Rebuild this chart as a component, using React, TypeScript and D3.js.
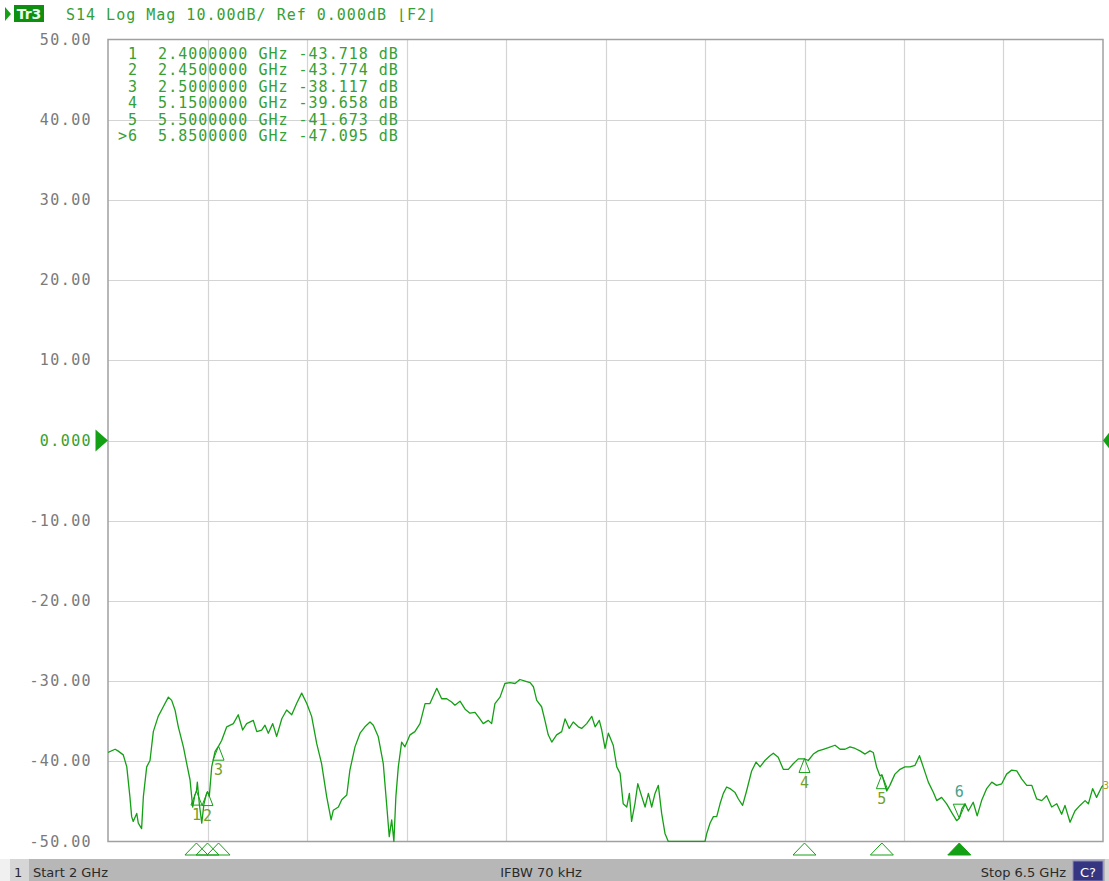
import React, { useRef, useEffect } from 'react';
import * as d3 from 'd3';

// S14 trace (GHz / dB)
const freqGHz = [
  2.000, 2.032, 2.045, 2.069, 2.085, 2.099, 2.107, 2.114, 2.130, 2.137, 2.152, 2.160, 2.175, 2.190,
  2.205, 2.227, 2.250, 2.273, 2.288, 2.303, 2.318, 2.341, 2.359, 2.371, 2.383, 2.393, 2.400, 2.404,
  2.413, 2.424, 2.434, 2.446, 2.450, 2.458, 2.469, 2.484, 2.500, 2.514, 2.537, 2.567, 2.589, 2.609,
  2.627, 2.657, 2.673, 2.695, 2.710, 2.725, 2.745, 2.763, 2.786, 2.808, 2.831, 2.853, 2.876, 2.899,
  2.921, 2.944, 2.966, 2.989, 3.009, 3.019, 3.042, 3.057, 3.080, 3.094, 3.117, 3.140, 3.162, 3.185,
  3.200, 3.222, 3.245, 3.260, 3.272, 3.283, 3.293, 3.302, 3.313, 3.328, 3.343, 3.366, 3.388, 3.411,
  3.434, 3.456, 3.487, 3.509, 3.532, 3.554, 3.569, 3.592, 3.615, 3.637, 3.660, 3.682, 3.697, 3.720,
  3.735, 3.750, 3.773, 3.795, 3.818, 3.841, 3.863, 3.886, 3.909, 3.924, 3.939, 3.961, 3.976, 3.991,
  4.007, 4.029, 4.052, 4.067, 4.086, 4.104, 4.127, 4.142, 4.165, 4.188, 4.203, 4.222, 4.233, 4.248,
  4.263, 4.285, 4.301, 4.316, 4.330, 4.346, 4.358, 4.368, 4.383, 4.396, 4.414, 4.429, 4.444, 4.459,
  4.474, 4.489, 4.504, 4.519, 4.534, 4.700, 4.708, 4.723, 4.738, 4.753, 4.768, 4.783, 4.798, 4.813,
  4.836, 4.851, 4.870, 4.888, 4.911, 4.931, 4.949, 4.971, 4.994, 5.009, 5.031, 5.054, 5.077, 5.099,
  5.122, 5.150, 5.167, 5.190, 5.212, 5.235, 5.258, 5.288, 5.311, 5.333, 5.356, 5.379, 5.401, 5.424,
  5.446, 5.461, 5.476, 5.491, 5.500, 5.522, 5.536, 5.559, 5.582, 5.604, 5.627, 5.650, 5.670, 5.687,
  5.710, 5.733, 5.748, 5.770, 5.793, 5.816, 5.838, 5.850, 5.862, 5.876, 5.891, 5.913, 5.931, 5.951,
  5.974, 5.997, 6.019, 6.042, 6.064, 6.087, 6.110, 6.132, 6.155, 6.178, 6.200, 6.223, 6.245, 6.268,
  6.291, 6.313, 6.328, 6.351, 6.373, 6.396, 6.419, 6.434, 6.453, 6.471, 6.494, 6.500,
];

const s14dB = [
  -38.9, -38.5, -38.7, -39.2, -40.7, -44.4, -46.9, -47.5, -46.5, -47.7, -48.4, -44.4, -40.7, -39.9,
  -36.3, -34.4, -33.2, -32.0, -32.4, -33.6, -35.7, -38.2, -40.7, -42.3, -45.7, -44.2, -43.7, -42.6,
  -45.3, -47.7, -45.3, -44.0, -43.8, -44.4, -40.7, -38.8, -38.1, -37.4, -35.7, -35.3, -34.2, -36.1,
  -35.3, -34.9, -36.3, -36.1, -35.5, -36.5, -35.3, -36.9, -34.7, -33.6, -34.2, -32.8, -31.5, -32.8,
  -34.4, -37.8, -40.3, -44.4, -47.3, -46.1, -45.7, -44.8, -44.2, -41.1, -38.2, -36.5, -35.7, -35.1,
  -35.5, -36.9, -40.3, -45.3, -49.4, -47.3, -50.0, -44.4, -40.7, -37.6, -38.2, -36.7, -36.3, -35.3,
  -32.8, -32.8, -30.9, -32.2, -32.2, -32.6, -33.0, -32.5, -33.5, -34.0, -33.9, -34.7, -35.3, -34.9,
  -35.3, -32.8, -32.0, -30.3, -30.2, -30.3, -29.8, -30.0, -30.2, -30.7, -32.4, -33.2, -34.9, -36.7,
  -37.6, -36.7, -36.3, -34.7, -35.9, -35.1, -35.7, -35.9, -35.3, -34.4, -35.7, -34.9, -36.1, -38.4,
  -36.5, -38.0, -40.7, -41.5, -45.3, -45.7, -44.0, -47.5, -45.3, -42.8, -44.4, -45.7, -44.0, -45.7,
  -44.0, -43.0, -46.5, -49.0, -50.0, -50.0, -49.0, -47.7, -46.9, -46.9, -45.3, -44.0, -43.2, -43.4,
  -43.9, -44.7, -45.5, -43.7, -41.2, -40.1, -40.7, -39.9, -39.3, -39.0, -39.5, -41.0, -41.0, -40.3,
  -39.7, -39.7, -39.9, -39.1, -38.7, -38.5, -38.3, -38.0, -38.5, -38.5, -38.2, -38.4, -38.7, -39.1,
  -38.7, -38.9, -40.7, -41.8, -41.7, -43.7, -43.0, -41.6, -41.0, -40.7, -40.7, -40.5, -39.3, -40.7,
  -42.6, -43.9, -44.9, -44.5, -45.3, -46.4, -47.4, -47.1, -45.9, -45.3, -46.2, -45.1, -46.8, -44.9,
  -43.4, -42.6, -43.0, -42.8, -41.6, -41.1, -41.2, -42.2, -43.0, -43.0, -44.7, -44.9, -44.3, -45.7,
  -45.3, -46.6, -45.5, -47.6, -46.2, -45.5, -44.9, -45.3, -43.4, -44.5, -43.2, -43.0,
];

const markerIds = ['1', '2', '3', '4', '5', '6'];
const markerFreqs = [2.4, 2.45, 2.5, 5.15, 5.5, 5.85];
const markerValues = [-43.718, -43.774, -38.117, -39.658, -41.673, -47.095];
const activeMarker = '6';

const yTicks = [50, 40, 30, 20, 10, 0, -10, -20, -30, -40, -50];
const xDivisions = [2, 2.45, 2.9, 3.35, 3.8, 4.25, 4.7, 5.15, 5.6, 6.05, 6.5];

const headerText = 'S14 Log Mag 10.00dB/ Ref 0.000dB \u230AF2\u230B';
const startLabel = 'Start 2 GHz';
const ifbwLabel = 'IFBW 70 kHz';
const stopLabel = 'Stop 6.5 GHz';

const W = 1109;
const H = 881;
const MONO = "'DejaVu Sans Mono', monospace";
const SANS = "'DejaVu Sans', sans-serif";
const GREEN = '#14a014';
const TEXT_GREEN = '#35a035';
const LABEL_OLIVE = '#74a02a';
const NB = '\u00A0';

const App: React.FC = () => {
  const ref = useRef<SVGSVGElement>(null);

  useEffect(() => {
    if (!ref.current) return;
    const svg = d3.select(ref.current);
    svg.selectAll('*').remove();

    const left = 108, right = 1103, top = 39.5, bottom = 841.5;
    const x = d3.scaleLinear().domain([2, 6.5]).range([left, right]);
    const y = d3.scaleLinear().domain([-50, 50]).range([bottom, top]);

    svg.append('rect').attr('width', W).attr('height', H).attr('fill', '#ffffff');

    // grid
    svg.append('g').selectAll('line').data(yTicks.slice(1, -1)).enter().append('line')
      .attr('x1', left).attr('x2', right)
      .attr('y1', d => Math.round(y(d)) + 0.5).attr('y2', d => Math.round(y(d)) + 0.5)
      .attr('stroke', '#d4d4d4').attr('stroke-width', 1.2);
    svg.append('g').selectAll('line').data(xDivisions.slice(1, -1)).enter().append('line')
      .attr('x1', d => Math.round(x(d)) + 0.5).attr('x2', d => Math.round(x(d)) + 0.5)
      .attr('y1', top).attr('y2', bottom)
      .attr('stroke', '#d4d4d4').attr('stroke-width', 1.2);

    // frame
    svg.append('rect')
      .attr('x', left).attr('y', top).attr('width', right - left).attr('height', bottom - top)
      .attr('fill', 'none').attr('stroke', '#a0a0a0').attr('stroke-width', 1.5);

    // y labels
    svg.append('g').selectAll('text').data(yTicks).enter().append('text')
      .attr('x', 92).attr('y', d => y(d))
      .attr('text-anchor', 'end').attr('dominant-baseline', 'central')
      .attr('font-family', MONO).attr('font-size', 15).attr('letter-spacing', 1.4)
      .attr('fill', d => (d === 0 ? '#3a9f2a' : '#7a7a7a'))
      .text(d => (d === 0 ? '0.000' : d.toFixed(2)));

    // reference level arrows
    const y0 = y(0);
    svg.append('path')
      .attr('d', `M95.5,${y0 - 11}L108,${y0}L95.5,${y0 + 11}Z`).attr('fill', GREEN);
    svg.append('path')
      .attr('d', `M1110,${y0 - 9}L1103,${y0}L1110,${y0 + 9}Z`).attr('fill', GREEN);

    // trace
    svg.append('clipPath').attr('id', 'plot-clip').append('rect')
      .attr('x', left).attr('y', top - 1).attr('width', right - left).attr('height', bottom - top + 1.5);
    const pts = freqGHz.map((f, i) => [f, s14dB[i]] as [number, number]);
    const line = d3.line<[number, number]>().x(d => x(d[0])).y(d => y(d[1]));
    svg.append('path').datum(pts)
      .attr('clip-path', 'url(#plot-clip)')
      .attr('d', line)
      .attr('fill', 'none').attr('stroke', GREEN).attr('stroke-width', 1.3)
      .attr('stroke-linejoin', 'round');

    // trace end label
    svg.append('text').attr('x', 1103).attr('y', y(s14dB[s14dB.length - 1]) + 4)
      .attr('font-family', MONO).attr('font-size', 10).attr('fill', '#b0a020').text('3');

    // markers on trace
    const mk = svg.append('g');
    markerIds.forEach((id, i) => {
      const mx = x(markerFreqs[i]);
      const my = y(markerValues[i]);
      if (id === activeMarker) {
        mk.append('path')
          .attr('d', `M${mx - 6},${my - 14}L${mx + 6},${my - 14}L${mx},${my}Z`)
          .attr('fill', 'none').attr('stroke', GREEN).attr('stroke-width', 1);
        mk.append('text').attr('x', mx).attr('y', my - 26)
          .attr('text-anchor', 'middle').attr('dominant-baseline', 'central')
          .attr('font-family', MONO).attr('font-size', 15).attr('fill', '#4aa08a').text(id);
      } else {
        mk.append('path')
          .attr('d', `M${mx},${my}L${mx + 5.5},${my + 14}L${mx - 5.5},${my + 14}Z`)
          .attr('fill', 'none').attr('stroke', GREEN).attr('stroke-width', 1);
        mk.append('text').attr('x', mx).attr('y', my + 24)
          .attr('text-anchor', 'middle').attr('dominant-baseline', 'central')
          .attr('font-family', MONO).attr('font-size', 15).attr('fill', LABEL_OLIVE).text(id);
      }
    });

    // marker position triangles under the grid
    const bt = svg.append('g');
    markerIds.forEach((id, i) => {
      const mx = x(markerFreqs[i]);
      const active = id === activeMarker;
      bt.append('path')
        .attr('d', `M${mx},843L${mx + 11.5},855L${mx - 11.5},855Z`)
        .attr('fill', active ? GREEN : 'none')
        .attr('stroke', GREEN).attr('stroke-width', 1);
    });

    // marker readout table
    const tbl = svg.append('g')
      .attr('font-family', MONO).attr('font-size', 15).attr('letter-spacing', 1)
      .attr('fill', TEXT_GREEN);
    markerIds.forEach((id, i) => {
      const prefix = id === activeMarker ? '>' : NB;
      const row = `${prefix}${id}${NB}${NB}${markerFreqs[i].toFixed(7)}${NB}GHz${NB}${markerValues[i].toFixed(3)}${NB}dB`;
      tbl.append('text').attr('x', 118).attr('y', 59 + i * 16.4).text(row);
    });

    // header
    svg.append('path').attr('d', 'M5,7L11,14L5,21Z').attr('fill', GREEN);
    svg.append('rect').attr('x', 14).attr('y', 5).attr('width', 30).attr('height', 17).attr('fill', '#0f8f0f');
    svg.append('text').attr('x', 29).attr('y', 19).attr('text-anchor', 'middle')
      .attr('font-family', SANS).attr('font-size', 14).attr('font-weight', 'bold')
      .attr('fill', '#e8ffe8').text('Tr3');
    svg.append('text').attr('x', 66).attr('y', 20)
      .attr('font-family', MONO).attr('font-size', 15).attr('letter-spacing', 1)
      .attr('fill', TEXT_GREEN).text(headerText.replace(/ /g, NB));

    // status bar
    const bar = svg.append('g');
    bar.append('rect').attr('x', 0).attr('y', 859).attr('width', W).attr('height', H - 859).attr('fill', '#b7b7b7');
    bar.append('rect').attr('x', 0).attr('y', 859).attr('width', 10).attr('height', H - 859).attr('fill', '#f0f0f0');
    bar.append('rect').attr('x', 10).attr('y', 859).attr('width', 19).attr('height', H - 859).attr('fill', '#d6d6d6');
    bar.append('rect').attr('x', 1073).attr('y', 861).attr('width', 30).attr('height', 20)
      .attr('fill', '#353582').attr('stroke', '#8a8ac0').attr('stroke-width', 1);
    bar.append('rect').attr('x', 1105).attr('y', 859).attr('width', 4).attr('height', H - 859).attr('fill', '#d6d6d6');
    const barText = (tx: number, anchor: string, label: string, fill = '#2a2a2a') =>
      bar.append('text').attr('x', tx).attr('y', 877).attr('text-anchor', anchor)
        .attr('font-family', SANS).attr('font-size', 13).attr('fill', fill).text(label);
    barText(14, 'start', '1');
    barText(33, 'start', startLabel);
    barText(541, 'middle', ifbwLabel);
    barText(1066, 'end', stopLabel);
    barText(1088, 'middle', 'C?', '#ffffff');
  }, []);

  return (
    <div style={{ position: 'absolute', left: 0, top: 0, width: W, height: H, overflow: 'hidden' }}>
      <svg ref={ref} width={W} height={H} viewBox={`0 0 ${W} ${H}`} style={{ display: 'block' }} />
    </div>
  );
};

export default App;
